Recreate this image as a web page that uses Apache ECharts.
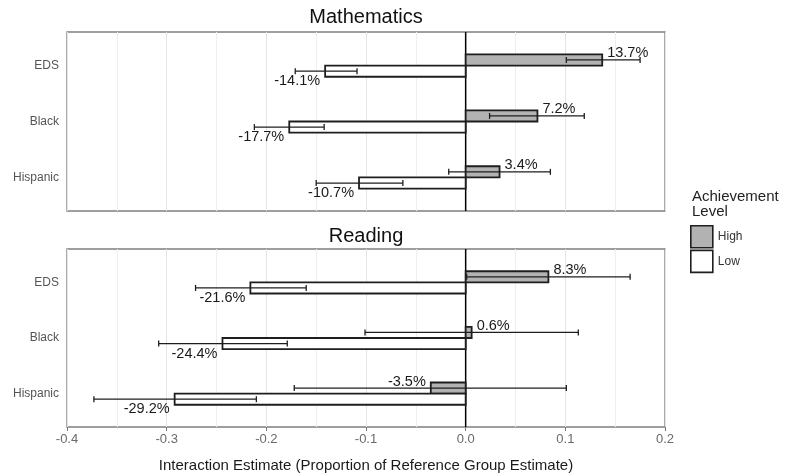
<!DOCTYPE html>
<html>
<head>
<meta charset="utf-8">
<script src="https://cdn.jsdelivr.net/npm/echarts@6/dist/echarts.min.js"></script>
<style>
  html, body { margin: 0; padding: 0; background: #fff; }
  #chart { width: 785px; height: 474px; }
</style>
</head>
<body>
<div id="chart"></div>
<script>
// Subgroup categories (top to bottom) and achievement levels
const categories = ['EDS', 'Black', 'Hispanic'];
const levels = ['High', 'Low'];
const xTicks = [-0.4, -0.3, -0.2, -0.1, 0.0, 0.1, 0.2];

// Mathematics: interaction estimates with confidence limits
const mathHigh = [0.137, 0.072, 0.034];
const mathHighLo = [0.101, 0.024, -0.017];
const mathHighHi = [0.175, 0.119, 0.085];
const mathLow = [-0.141, -0.177, -0.107];
const mathLowLo = [-0.171, -0.212, -0.150];
const mathLowHi = [-0.109, -0.142, -0.063];

// Reading: interaction estimates with confidence limits
const readHigh = [0.083, 0.006, -0.035];
const readHighLo = [0.001, -0.101, -0.172];
const readHighHi = [0.165, 0.113, 0.101];
const readLow = [-0.216, -0.244, -0.292];
const readLowLo = [-0.271, -0.308, -0.373];
const readLowHi = [-0.160, -0.179, -0.210];

const FONT = "'Liberation Sans', Arial, sans-serif";
const fillColors = { High: '#b2b2b2', Low: '#ffffff' };

function rows(est, lo, hi) {
  return categories.map((c, i) => [i + 1, est[i], lo[i], hi[i]]);
}

// Bars dodged around each category position, with error bars and value labels
function makeRender(level) {
  const shift = level === 'High' ? -0.1 : 0.1;
  return function (params, api) {
    const cat = api.value(0), est = api.value(1), lo = api.value(2), hi = api.value(3);
    const yc = cat + shift;
    const a = api.coord([0, yc - 0.1]);
    const b = api.coord([est, yc + 0.1]);
    const c = api.coord([est, yc]);
    const l = api.coord([lo, yc]);
    const h = api.coord([hi, yc]);
    const cap = 3;
    const txt = (est * 100).toFixed(1) + '%';
    const pos = est >= 0;
    return {
      type: 'group',
      children: [
        {
          type: 'rect',
          shape: {
            x: Math.min(a[0], b[0]), y: Math.min(a[1], b[1]),
            width: Math.abs(b[0] - a[0]), height: Math.abs(b[1] - a[1])
          },
          style: { fill: fillColors[level], stroke: '#1e1e1e', lineWidth: 1.8 }
        },
        { type: 'line', shape: { x1: l[0], y1: l[1], x2: h[0], y2: h[1] }, style: { stroke: '#1e1e1e', lineWidth: 1.3 } },
        { type: 'line', shape: { x1: l[0], y1: l[1] - cap, x2: l[0], y2: l[1] + cap }, style: { stroke: '#1e1e1e', lineWidth: 1.3 } },
        { type: 'line', shape: { x1: h[0], y1: h[1] - cap, x2: h[0], y2: h[1] + cap }, style: { stroke: '#1e1e1e', lineWidth: 1.3 } },
        {
          type: 'text',
          x: c[0] + (pos ? 5 : -5),
          y: c[1] + (level === 'High' ? -6.5 : 10),
          style: {
            text: txt, fill: '#1a1a1a', font: '14.5px ' + FONT,
            align: pos ? 'left' : 'right', verticalAlign: 'middle'
          }
        }
      ]
    };
  };
}

function panelSeries(idx, high, highLo, highHi, low, lowLo, lowHi) {
  return [
    {
      type: 'line', xAxisIndex: idx, yAxisIndex: idx, silent: true,
      data: [[0, 0.4], [0, 3.6]], symbol: 'none',
      lineStyle: { color: '#000', width: 1.5 }, z: 1
    },
    {
      name: 'High', type: 'custom', xAxisIndex: idx, yAxisIndex: idx,
      renderItem: makeRender('High'), data: rows(high, highLo, highHi),
      encode: { x: [1, 2, 3], y: 0 }, itemStyle: { color: fillColors.High }, z: 3
    },
    {
      name: 'Low', type: 'custom', xAxisIndex: idx, yAxisIndex: idx,
      renderItem: makeRender('Low'), data: rows(low, lowLo, lowHi),
      encode: { x: [1, 2, 3], y: 0 }, itemStyle: { color: fillColors.Low }, z: 3
    }
  ];
}

function xAxis(idx, bottom) {
  return {
    type: 'value', gridIndex: idx, min: xTicks[0], max: xTicks[xTicks.length - 1], interval: 0.1,
    axisLine: { show: false },
    axisTick: { show: bottom, length: 4, lineStyle: { color: '#777' } },
    axisLabel: {
      show: bottom, margin: 6, color: '#6a6a6a', fontSize: 13, fontFamily: FONT,
      formatter: v => v.toFixed(1)
    },
    splitLine: { show: true, lineStyle: { color: '#e4e4e4', width: 1 } },
    minorTick: { show: false, splitNumber: 2 },
    minorSplitLine: { show: true, lineStyle: { color: '#eeeeee', width: 1 } },
    name: bottom ? 'Interaction Estimate (Proportion of Reference Group Estimate)' : '',
    nameLocation: 'middle', nameGap: 31,
    nameTextStyle: { color: '#1a1a1a', fontSize: 15, fontFamily: FONT }
  };
}

function yAxis(idx) {
  return {
    type: 'value', gridIndex: idx, min: 0.4, max: 3.6, inverse: true,
    axisLine: { show: false }, axisTick: { show: false },
    splitLine: { show: false },
    axisLabel: {
      customValues: [1, 2, 3], margin: 8, color: '#555', fontSize: 12, fontFamily: FONT,
      formatter: v => categories[Math.round(v) - 1] || ''
    }
  };
}

const chart = echarts.init(document.getElementById('chart'), null, { renderer: 'canvas' });
chart.setOption({
  backgroundColor: '#fff',
  animation: false,
  title: [
    { text: 'Mathematics', left: 366, top: 7, textAlign: 'center', padding: 0,
      textStyle: { fontSize: 20, fontWeight: 'normal', color: '#111', fontFamily: FONT } },
    { text: 'Reading', left: 366, top: 226, textAlign: 'center', padding: 0,
      textStyle: { fontSize: 20, fontWeight: 'normal', color: '#111', fontFamily: FONT } },
    { text: 'Achievement\nLevel', left: 692, top: 189, padding: 0,
      textStyle: { fontSize: 15, lineHeight: 15, fontWeight: 'normal', color: '#222', fontFamily: FONT } }
  ],
  legend: {
    orient: 'vertical', left: 690, top: 225, padding: 0,
    itemWidth: 22, itemHeight: 22, itemGap: 1, icon: 'rect',
    textStyle: { fontSize: 12, color: '#333', fontFamily: FONT },
    data: levels.map(n => ({
      name: n, icon: 'rect',
      itemStyle: { color: fillColors[n], borderColor: '#1e1e1e', borderWidth: 1.6 }
    }))
  },
  grid: [
    { left: 67, top: 32, width: 598, height: 179, show: true, borderColor: '#7f7f7f', borderWidth: 1.3, backgroundColor: 'transparent' },
    { left: 67, top: 249, width: 598, height: 181, show: true, borderColor: '#7f7f7f', borderWidth: 1.3, backgroundColor: 'transparent' }
  ],
  xAxis: [xAxis(0, false), xAxis(1, true)],
  yAxis: [yAxis(0), yAxis(1)],
  series: [
    ...panelSeries(0, mathHigh, mathHighLo, mathHighHi, mathLow, mathLowLo, mathLowHi),
    ...panelSeries(1, readHigh, readHighLo, readHighHi, readLow, readLowLo, readLowHi)
  ]
});
</script>
</body>
</html>
